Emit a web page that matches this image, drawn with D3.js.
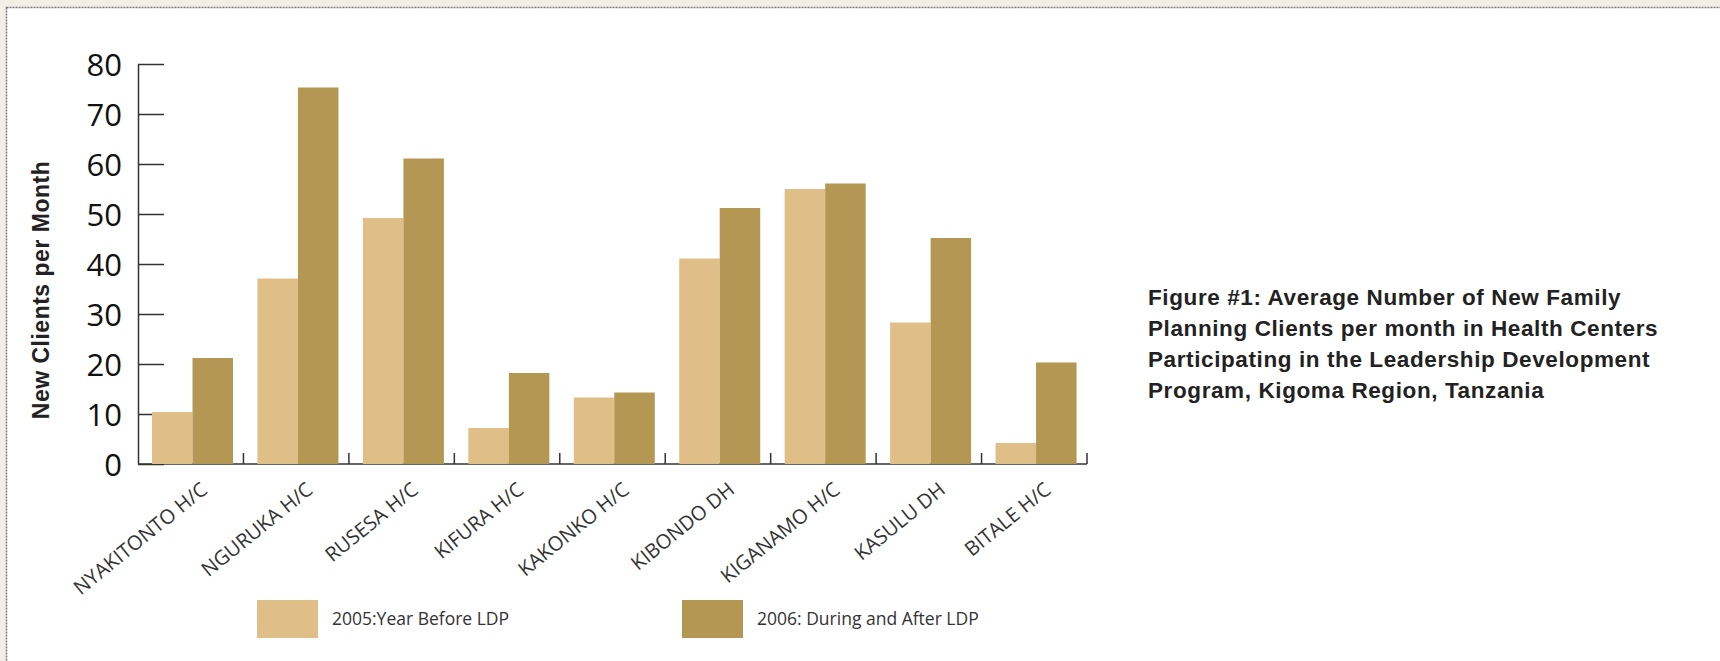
<!DOCTYPE html>
<html>
<head>
<meta charset="utf-8">
<script src="https://cdn.jsdelivr.net/npm/d3@7"></script>
<style>
  body { margin: 0; background: #f4efe6; }
  svg { display: block; }
</style>
</head>
<body>
<div id="chart"></div>
<script>
const categories = ["NYAKITONTO H/C", "NGURUKA H/C", "RUSESA H/C", "KIFURA H/C", "KAKONKO H/C",
  "KIBONDO DH", "KIGANAMO H/C", "KASULU DH", "BITALE H/C"];
const values2005 = [10.4, 37.1, 49.2, 7.2, 13.3, 41.1, 55, 28.3, 4.2];
const values2006 = [21.2, 75.3, 61.1, 18.2, 14.3, 51.2, 56.1, 45.2, 20.3];
const seriesNames = ["2005:Year Before LDP", "2006: During and After LDP"];
const yTicks = [0, 10, 20, 30, 40, 50, 60, 70, 80];
const titleLines = [
  "Figure #1: Average Number of New Family",
  "Planning Clients per month in Health Centers",
  "Participating in the Leadership Development",
  "Program, Kigoma Region, Tanzania"
];

const W = 1720, H = 661;
const colors = ["#dfbf87", "#b49752"];
const axisColor = "#333";

const svg = d3.select("#chart").append("svg")
  .attr("width", W).attr("height", H);

// white panel with dotted border
svg.append("rect")
  .attr("x", 6.5).attr("y", 7.5)
  .attr("width", W + 10).attr("height", H + 10)
  .attr("fill", "#fff")
  .attr("stroke", "#7a7a7a")
  .attr("stroke-width", 1.5)
  .attr("stroke-dasharray", "2,1");

const x0 = d3.scaleBand().domain(categories).range([138, 1087]).padding(0);
const x1 = d3.scaleBand().domain([0, 1]).range([14, 95]).padding(0);
const y = d3.scaleLinear().domain([0, 80]).range([464, 64]);

// y axis
const yAxis = svg.append("g")
  .attr("transform", "translate(138,0)")
  .call(d3.axisRight(y).tickValues(yTicks).tickSize(26).tickSizeOuter(0).tickFormat(d3.format("d")));
yAxis.select(".domain").attr("stroke", axisColor).attr("stroke-width", 1.5);
yAxis.selectAll(".tick line").attr("stroke", axisColor).attr("stroke-width", 1.5);
yAxis.selectAll(".tick text")
  .attr("x", -16)
  .attr("dy", "0.36em")
  .attr("text-anchor", "end")
  .attr("fill", "#111")
  .style("font-family", "'Open Sans', sans-serif")
  .style("font-size", "31px");

// x axis baseline with boundary ticks
const xAxis = svg.append("g");
xAxis.append("line")
  .attr("x1", 138).attr("x2", 1087)
  .attr("y1", y(0)).attr("y2", y(0))
  .attr("stroke", axisColor).attr("stroke-width", 1.5);
categories.forEach(function (c) {
  const bx = x0(c) + x0.bandwidth();
  xAxis.append("line")
    .attr("x1", bx).attr("x2", bx)
    .attr("y1", y(0)).attr("y2", y(0) - 11)
    .attr("stroke", axisColor).attr("stroke-width", 1.5);
});

// bars (over the baseline)
const g = svg.append("g");
categories.forEach(function (c, i) {
  [values2005[i], values2006[i]].forEach(function (v, s) {
    g.append("rect")
      .attr("x", x0(c) + x1(s))
      .attr("y", y(v))
      .attr("width", x1.bandwidth())
      .attr("height", y(0) - y(v))
      .attr("fill", colors[s]);
  });
});

// category labels
categories.forEach(function (c) {
  const cx = x0(c) + x0.bandwidth() / 2 + 18;
  svg.append("text")
    .attr("transform", "translate(" + cx + ",492) rotate(-39)")
    .attr("text-anchor", "end")
    .attr("fill", "#333")
    .style("font-family", "'Open Sans', sans-serif")
    .style("font-size", "20px")
    .text(c);
});

// y axis title
svg.append("text")
  .attr("transform", "translate(41,290) rotate(-90)")
  .attr("text-anchor", "middle")
  .attr("dy", "0.35em")
  .attr("fill", "#222")
  .style("font-family", "'Liberation Sans', Arial, sans-serif")
  .style("font-weight", "bold")
  .style("font-size", "23px")
  .style("letter-spacing", "0.5px")
  .text("New Clients per Month");

// legend
seriesNames.forEach(function (name, s) {
  const lx = [257, 682][s];
  svg.append("rect")
    .attr("x", lx).attr("y", 600)
    .attr("width", 61).attr("height", 38)
    .attr("fill", colors[s]);
  svg.append("text")
    .attr("x", lx + 75).attr("y", 625)
    .attr("fill", "#333")
    .style("font-family", "'Open Sans', sans-serif")
    .style("font-size", "17.5px")
    .text(name);
});

// figure title
const title = svg.append("text")
  .attr("x", 1148).attr("y", 305)
  .attr("fill", "#222")
  .style("font-family", "'Liberation Sans', Arial, sans-serif")
  .style("font-weight", "bold")
  .style("font-size", "22.5px")
  .style("letter-spacing", "0.6px");
titleLines.forEach(function (t, i) {
  title.append("tspan").attr("x", 1148).attr("dy", i === 0 ? 0 : 31).text(t);
});
</script>
</body>
</html>
